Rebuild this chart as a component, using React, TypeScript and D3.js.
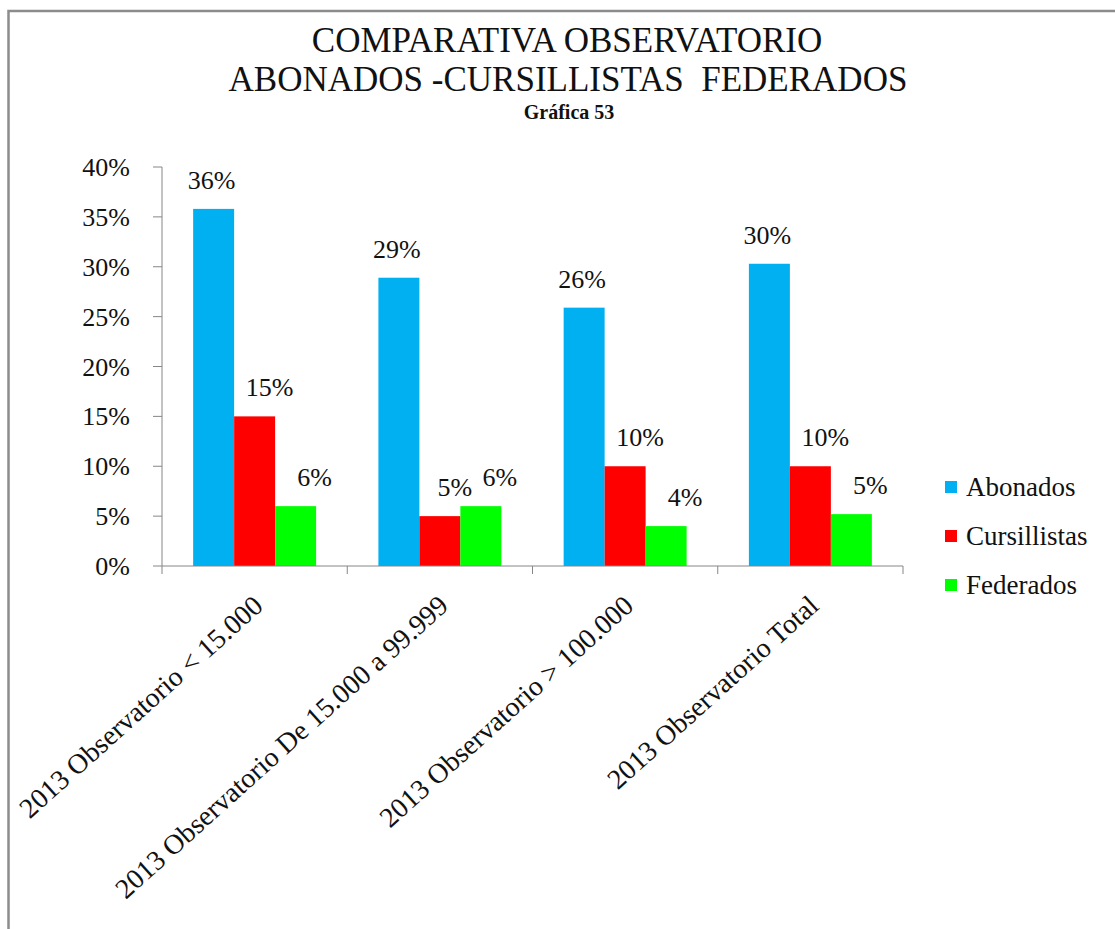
import { scaleBand, scaleLinear } from "d3";

const W = 1115;
const H = 929;
const M = { top: 167, left: 162, right: 903, bottom: 566 };

const categories = [
  "2013 Observatorio < 15.000",
  "2013 Observatorio De 15.000 a 99.999",
  "2013 Observatorio > 100.000",
  "2013 Observatorio Total",
];
const seriesNames = ["Abonados", "Cursillistas", "Federados"];
const seriesColors = ["#00b0f0", "#ff0000", "#00ff00"];
const abonados = [0.358, 0.289, 0.259, 0.303];
const cursillistas = [0.15, 0.05, 0.1, 0.1];
const federados = [0.06, 0.06, 0.04, 0.052];
const yTicks = [0, 0.05, 0.1, 0.15, 0.2, 0.25, 0.3, 0.35, 0.4];
const titleLines = ["COMPARATIVA OBSERVATORIO", "ABONADOS -CURSILLISTAS  FEDERADOS"];
const subtitle = "Gráfica 53";

// label nudges per series (the labels in the source sit right of the red/green bars)
const labelDx = [-2, 15, 19];

const FONT = "Liberation Serif, Times New Roman, serif";
const txt = { fontFamily: FONT };

export default function App() {
  const values = [abonados, cursillistas, federados];
  const x = scaleBand<string>().domain(categories).range([M.left, M.right]);
  const inner = scaleBand<string>()
    .domain(seriesNames)
    .range([0, x.bandwidth()])
    .paddingOuter(0.76);
  const y = scaleLinear().domain([0, 0.4]).range([M.bottom, M.top]);
  const fmt = (v: number) => `${Math.round(v * 100)}%`;
  const axisColor = "#868686";
  const boundaries = [...categories.map((c) => x(c) ?? 0), M.right];

  return (
    <svg
      width={W}
      height={H}
      viewBox={`0 0 ${W} ${H}`}
      style={{ position: "absolute", left: 0, top: 0, background: "#fff", fontFamily: FONT }}
    >
      <rect x={8.5} y={11} width={W + 20} height={H + 20} fill="#fff" stroke="#8c8c8c" strokeWidth={2.5} />

      <g textAnchor="middle" fill="#111">
        <text x={567} y={52} fontSize={35} style={txt}>{titleLines[0]}</text>
        <text x={568} y={91} fontSize={35} style={{ ...txt, whiteSpace: "pre" }}>{titleLines[1]}</text>
        <text x={569} y={119} fontSize={20} fontWeight="bold" style={txt}>{subtitle}</text>
      </g>

      {/* y axis */}
      <line x1={M.left} x2={M.left} y1={M.top} y2={M.bottom} stroke={axisColor} />
      {yTicks.map((t) => (
        <g key={`y${t}`}>
          <line x1={M.left - 9} x2={M.left} y1={y(t)} y2={y(t)} stroke={axisColor} />
          <text x={130} y={y(t)} dy="0.35em" textAnchor="end" fontSize={26} fill="#111" style={txt}>
            {fmt(t)}
          </text>
        </g>
      ))}

      {/* bars */}
      {categories.map((c, i) => (
        <g key={c} transform={`translate(${x(c)},0)`}>
          {seriesNames.map((s, j) => {
            const v = values[j][i];
            const bx = inner(s) ?? 0;
            return (
              <g key={s}>
                <rect
                  x={bx}
                  y={y(v)}
                  width={inner.bandwidth()}
                  height={y(0) - y(v)}
                  fill={seriesColors[j]}
                />
                <text
                  x={bx + inner.bandwidth() / 2 + labelDx[j]}
                  y={y(v) - 20}
                  textAnchor="middle"
                  fontSize={26}
                  fill="#111"
                  style={txt}
                >
                  {fmt(v)}
                </text>
              </g>
            );
          })}
        </g>
      ))}

      {/* x axis */}
      <line x1={M.left} x2={M.right} y1={M.bottom} y2={M.bottom} stroke={axisColor} />
      {boundaries.map((b, i) => (
        <line key={`xt${i}`} x1={b} x2={b} y1={M.bottom} y2={M.bottom + 8} stroke={axisColor} />
      ))}
      {categories.map((c) => {
        const cx = (x(c) ?? 0) + x.bandwidth() / 2 + 10;
        const cy = M.bottom + 42;
        return (
          <text
            key={`l${c}`}
            transform={`translate(${cx},${cy}) rotate(-42)`}
            textAnchor="end"
            fontSize={28}
            fill="#111"
            style={txt}
          >
            {c}
          </text>
        );
      })}

      {/* legend */}
      {seriesNames.map((s, j) => {
        const ly = 487 + j * 49;
        return (
          <g key={`lg${s}`}>
            <rect x={945} y={ly - 6} width={12} height={12} fill={seriesColors[j]} />
            <text x={966} y={ly} dy="0.35em" fontSize={27} fill="#111" style={txt}>
              {s}
            </text>
          </g>
        );
      })}
    </svg>
  );
}
